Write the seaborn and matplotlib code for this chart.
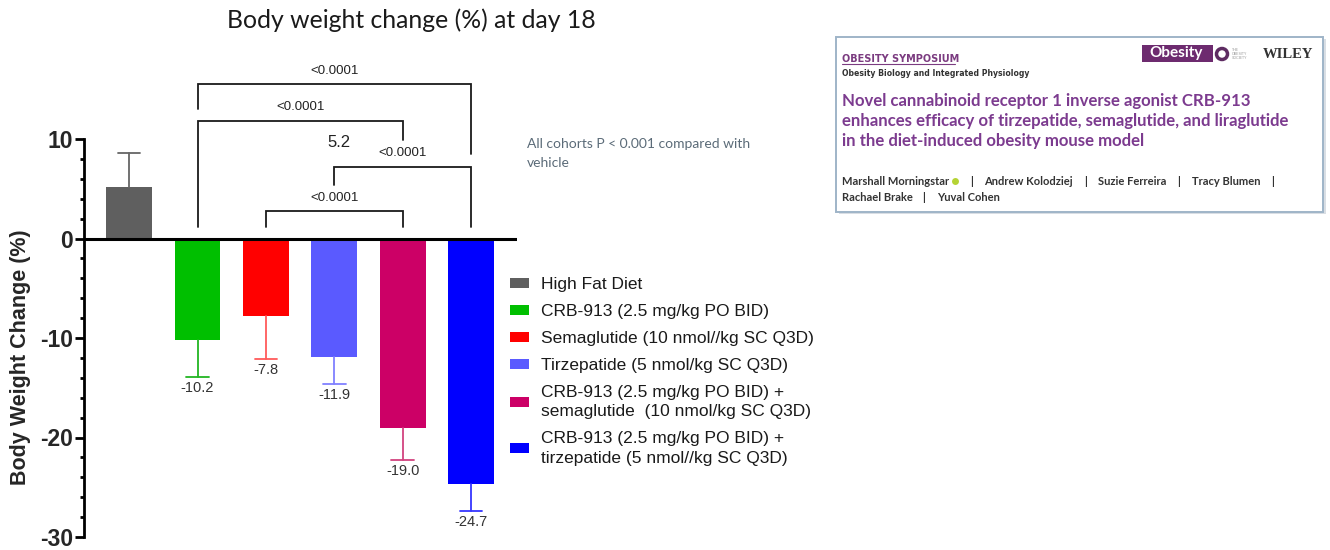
import matplotlib
matplotlib.use("Agg")
import matplotlib.pyplot as plt
from matplotlib.patches import Patch, Rectangle, Circle
from matplotlib.ticker import MultipleLocator
import pandas as pd
import seaborn as sns

# ---- data -------------------------------------------------------------
groups = [
    "High Fat Diet",
    "CRB-913 (2.5 mg/kg PO BID)",
    "Semaglutide (10 nmol//kg SC Q3D)",
    "Tirzepatide (5 nmol/kg SC Q3D)",
    "CRB-913 (2.5 mg/kg PO BID) +\nsemaglutide  (10 nmol/kg SC Q3D)",
    "CRB-913 (2.5 mg/kg PO BID) +\ntirzepatide (5 nmol//kg SC Q3D)",
]
change = [5.2, -10.2, -7.8, -11.9, -19.0, -24.7]
sem = [3.4, 3.7, 4.3, 2.7, 3.3, 2.7]
bar_colors = ["#5f5f5f", "#00bf00", "#ff0000", "#5a5aff", "#cc0066", "#0000ff"]
err_colors = ["#666666", "#22b522", "#ff5a5a", "#8080ff", "#d2437f", "#3535ff"]

# pairwise comparisons: left group, right group, p-value text
comp_left = [1, 1, 3, 2]
comp_right = [5, 4, 5, 4]
comp_p = ["<0.0001", "<0.0001", "<0.0001", "<0.0001"]
# bracket geometry (bar height, left leg end, right leg end)
comp_y = [15.5, 11.85, 7.2, 2.75]
comp_left_end = [13.0, 1.15, 5.35, 1.15]
comp_right_end = [8.46, 9.9, 1.15, 1.15]

df = pd.DataFrame({"group": groups, "change": change})

# ---- figure -----------------------------------------------------------
sns.set_style("ticks")
plt.rcParams["font.family"] = ["Liberation Sans", "DejaVu Sans"]
plt.rcParams["axes.unicode_minus"] = False

W, H = 1330, 550
fig = plt.figure(figsize=(W / 100, H / 100), dpi=100)
ax = fig.add_axes([84 / W, 1 - 537 / H, (517 - 84) / W, (537 - 139) / H])

sns.barplot(data=df, x="group", y="change", hue="group", palette=bar_colors,
            dodge=False, width=0.67, errorbar=None, legend=False,
            saturation=1, linewidth=0, ax=ax)

# one-sided SEM whiskers with a single outer cap
cap_half = 0.165
for i, (v, e) in enumerate(zip(change, sem)):
    end = v + e if v > 0 else v - e
    ax.plot([i, i], [v, end], color=err_colors[i], lw=1.3, zorder=3)
    ax.plot([i - cap_half, i + cap_half], [end, end], color=err_colors[i],
            lw=1.3, zorder=3)
    if v < 0:
        ax.text(i, end - 1.1, f"{v:.1f}", ha="center", va="center",
                fontsize=10.5, color="#333333")

# the positive group's value sits up among the brackets
ax.text(3.06, 9.67, f"{change[0]:.1f}", ha="center", va="center",
        fontsize=12, color="#222222")

for l, r, p, y, le, re in zip(comp_left, comp_right, comp_p, comp_y,
                              comp_left_end, comp_right_end):
    ax.plot([l, l, r, r], [le, y, y, re], color="#1a1a1a", lw=1.3,
            clip_on=False, solid_joinstyle="miter", zorder=4)
    ax.text((l + r) / 2, y + 1.35, p, ha="center", va="center",
            fontsize=9.5, color="#222222", clip_on=False)

ax.axhline(0, color="black", lw=2.2, zorder=5)
ax.set_xlim(-0.66, 5.67)
ax.set_ylim(-30, 10)
ax.set_yticks([-30, -20, -10, 0, 10])
ax.yaxis.set_minor_locator(MultipleLocator(2))
ax.tick_params(axis="y", which="major", direction="out", length=6.5, width=2,
               pad=1.5, labelsize=16.5, left=True, color="black")
ax.tick_params(axis="y", which="minor", direction="out", length=2.8, width=2,
               left=True, color="black")
for lab in ax.get_yticklabels():
    lab.set_fontweight("bold")
ax.set_xticks([])
ax.set_xlabel("")
ax.set_ylabel("Body Weight Change (%)", fontsize=15.5, fontweight="bold")
ax.yaxis.set_label_coords(-0.122, 0.452)
for s in ["top", "right", "bottom"]:
    ax.spines[s].set_visible(False)
ax.spines["left"].set_linewidth(2)
ax.spines["left"].set_color("black")
ax.patch.set_alpha(0)

handles = [Patch(facecolor=c, edgecolor="none") for c in bar_colors]
leg = fig.legend(handles, groups, loc="upper left",
                 bbox_to_anchor=(510 / W, 1 - 277.5 / H),
                 bbox_transform=fig.transFigure, frameon=False, fontsize=12.5,
                 handlelength=1.1, handleheight=0.48, handletextpad=0.7,
                 labelspacing=0.68, borderpad=0, borderaxespad=0,
                 labelcolor="#1a1a1a")
for t in leg.get_texts():
    t.set_linespacing(1.38)

# ---- overlay for free text and the article card -----------------------
ov = fig.add_axes([0, 0, 1, 1])
ov.set_xlim(0, W)
ov.set_ylim(H, 0)
ov.axis("off")

ov.text(411, 20, "Body weight change (%) at day 18", ha="center", va="center",
        fontsize=17.8, family="Lato", color="#1a1a1a")
ov.text(527, 144, "All cohorts P < 0.001 compared with", ha="left", va="center",
        fontsize=10, family="Lato", color="#5b6b78")
ov.text(527, 163, "vehicle", ha="left", va="center",
        fontsize=10, family="Lato", color="#5b6b78")

# article card
ov.add_patch(Rectangle((838.5, 39), 487, 175, facecolor="#d9dee4",
                       edgecolor="none", zorder=1))
ov.add_patch(Rectangle((836, 36.7), 486.7, 175, facecolor="white",
                       edgecolor="#9fb4c8", lw=1.4, zorder=2))
purple = "#7c3b8f"
ov.text(842, 58.7, "OBESITY SYMPOSIUM", ha="left", va="center", fontsize=7,
        family="DejaVu Sans", fontweight="bold", color="#7b3b80", zorder=3)
ov.plot([842, 955], [63.5, 63.5], color="#7b3b80", lw=0.8, zorder=3)
ov.text(842, 73.3, "Obesity Biology and Integrated Physiology", ha="left",
        va="center", fontsize=5.6, family="DejaVu Sans", fontweight="bold",
        color="#333333", zorder=3)
ov.add_patch(Rectangle((1142, 45), 71, 17.3, facecolor="#6d2b6f",
                       edgecolor="none", zorder=3))
ov.text(1176, 53, "Obesity", ha="center", va="center", fontsize=11,
        family="Lato", fontweight="bold", color="white", zorder=4)
ov.add_patch(Circle((1222, 54), 5.5, facecolor="none", edgecolor="#5e2c62",
                    lw=2.5, zorder=3))
ov.text(1232, 54, "THE\nOBESITY\nSOCIETY", ha="left", va="center", fontsize=2.6,
        color="#9a9a9a", linespacing=1.0, zorder=3)
ov.text(1263, 55, "WILEY", ha="left", va="center", fontsize=10.5,
        family="Liberation Serif", fontweight="bold", color="#333333", zorder=3)

title_lines = [
    "Novel cannabinoid receptor 1 inverse agonist CRB-913",
    "enhances efficacy of tirzepatide, semaglutide, and liraglutide",
    "in the diet-induced obesity mouse model",
]
for y, t in zip([100.7, 120.7, 141], title_lines):
    ov.text(842, y, t, ha="left", va="center", fontsize=12.1, family="Lato",
            fontweight="bold", color=purple, zorder=3)

author_parts = [
    (842, 181.7, "Marshall Morningstar"), (970, 181.7, "|"),
    (984, 181.7, "Andrew Kolodziej"), (1084, 181.7, "|"),
    (1098, 181.7, "Suzie Ferreira"), (1177, 181.7, "|"),
    (1192, 181.7, "Tracy Blumen"), (1271, 181.7, "|"),
    (842, 197.3, "Rachael Brake"), (922, 197.3, "|"),
    (937, 197.3, "Yuval Cohen"),
]
for x, y, t in author_parts:
    ov.text(x, y, t, ha="left", va="center", fontsize=8, family="Lato",
            fontweight="bold", color="#333333", zorder=3)
ov.plot([954.5], [181], marker="o", ms=5, color="#b5d334", mec="none", zorder=3)

fig.savefig("out.png", dpi=100)
